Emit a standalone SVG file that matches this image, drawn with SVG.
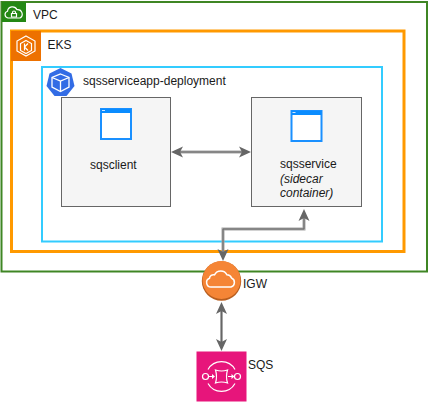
<svg xmlns="http://www.w3.org/2000/svg" width="428" height="402" viewBox="0 0 428 402">
<style>
text{font-family:"Liberation Sans",Arial,sans-serif;font-size:12px;fill:#1a1a1a}
.box{fill:#f5f5f5;stroke:#666;stroke-width:1}
.win{fill:#fff;stroke:#1a90ff;stroke-width:2}
.bar{fill:#0a8cff}
.dash{fill:#cfe6ff}
.ln{fill:none;stroke:#fff;stroke-width:1.200}
.conn{fill:none;stroke:#a6a6a6;stroke-width:3}
.core{fill:none;stroke:#666;stroke-width:1}
.head{fill:#666}
</style>
<rect width="428" height="402" fill="#fff"/>
<g id="vpc">
<rect x="1.500" y="2" width="425.500" height="269.500" fill="none" stroke="#3f8624" stroke-width="2"/>
<rect x="2" y="2" width="24" height="20" fill="#248814"/>
<path class="ln" d="M9 18h-1a3.500 3.500 0 0 1-0.500-6.800a5 5 0 0 1 9.500-1.500a4.500 4.500 0 0 1 3 8.300z"/>
<path class="ln" d="M11.500 13.500h5v3.500h-5zM12.500 13.500v-1a1.500 1.500 0 0 1 3 0v1"/>
<text x="33" y="19">VPC</text>
</g>
<g id="eks">
<rect x="11.500" y="31" width="392.500" height="220.500" fill="none" stroke="#ff9900" stroke-width="3"/>
<rect x="11" y="31" width="30" height="30" fill="#ed7100"/>
<path class="ln" d="M26 36l9 5v10l-9 5l-9-5v-10z"/>
<path class="ln" d="M26 40.500l5.500 3v7l-5.500 3l-5.500-3v-7z"/>
<path class="ln" d="M24.500 43.500v7M28 43.500l-3.500 3.500l3.500 3.500"/>
<text x="47.500" y="49">EKS</text>
</g>
<g id="deployment">
<rect x="42" y="67" width="340" height="174.500" fill="none" stroke="#33ccff" stroke-width="2"/>
<path d="M60.500 68l11 5.500l3 12.500l-8 10h-12l-8-10l3-12.500z" fill="#326ce5"/>
<path d="M60.500 74l8.500 3.500v9.500l-8.500 4.500l-8.500-4.500v-9.500z" fill="none" stroke="#fff" stroke-width="1.300"/>
<path d="M52 77.500l8.500 3.500l8.500-3.500M60.500 81v10.500" fill="none" stroke="#fff" stroke-width="1.300"/>
<text x="83" y="85">sqsserviceapp-deployment</text>
</g>
<g id="sqsclient">
<rect class="box" x="61.500" y="97.500" width="109" height="109"/>
<rect class="win" x="101" y="109" width="30" height="30"/>
<rect class="bar" x="101" y="109" width="30" height="4"/>
<rect class="dash" x="102" y="110" width="3" height="1"/>
<text x="90" y="169">sqsclient</text>
</g>
<g id="sqsservice">
<rect class="box" x="251.500" y="97.500" width="110" height="109"/>
<rect class="win" x="291.500" y="111" width="30" height="30"/>
<rect class="bar" x="291.500" y="111" width="30" height="4"/>
<rect class="dash" x="292.500" y="112" width="3" height="1"/>
<text x="280" y="168">sqsservice</text>
<text x="280" y="183" font-style="italic">(sidecar</text>
<text x="280" y="197" font-style="italic">container)</text>
</g>
<g id="connectors">
<path class="conn" d="M180 152H242"/><path class="core" d="M180 152H242"/>
<path class="head" d="M171 152l12-5.500l-3 5.500l3 5.500zM251 152l-12-5.500l3 5.500l-3 5.500z"/>
<path class="conn" d="M223 252V229H304V218"/><path class="core" d="M223 252V229H304V218"/>
<path class="head" d="M304 209l5.500 12l-5.500-3l-5.500 3zM223 261l-5.500-12l5.500 3l5.500-3z"/>
<path class="conn" d="M221.500 311V342"/><path class="core" d="M221.500 311V342"/>
<path class="head" d="M221.500 302l5.500 12l-5.500-3l-5.500 3zM221.500 351l-5.500-12l5.500 3l5.500-3z"/>
</g>
<g id="igw">
<circle cx="221.500" cy="281" r="19.700" fill="#b85e1f"/>
<circle cx="221.500" cy="280" r="19" fill="#f58536"/>
<path d="M212 287h-1a4.500 4.500 0 0 1-1.500-8.700a4 4 0 0 1 5-3.500a7 7 0 0 1 12.500 0a5 5 0 0 1 4.500 3.200a4.800 4.800 0 0 1-0.500 9z" fill="none" stroke="#fff" stroke-width="1.500"/>
<text x="243" y="288">IGW</text>
</g>
<g id="sqs">
<rect x="196.500" y="351.500" width="50" height="50" fill="#e7157b"/>
<path class="ln" d="M208 369.500a15.500 15.500 0 0 1 27 0M208 383.500a15.500 15.500 0 0 0 27 0"/>
<circle cx="205.500" cy="376.500" r="3" class="ln"/><circle cx="237.500" cy="376.500" r="3" class="ln"/>
<path class="ln" d="M215.500 370q6 2 12 0q-2 6.500 0 13q-6-2-12 0q2-6.500 0-13z"/>
<path class="ln" d="M208.500 376.500h4M228 376.500h4"/>
<path d="M215 376.500l-3-2.500v5zM234.500 376.500l-3-2.500v5z" fill="#fff"/>
<text x="248" y="369">SQS</text>
</g>
</svg>
